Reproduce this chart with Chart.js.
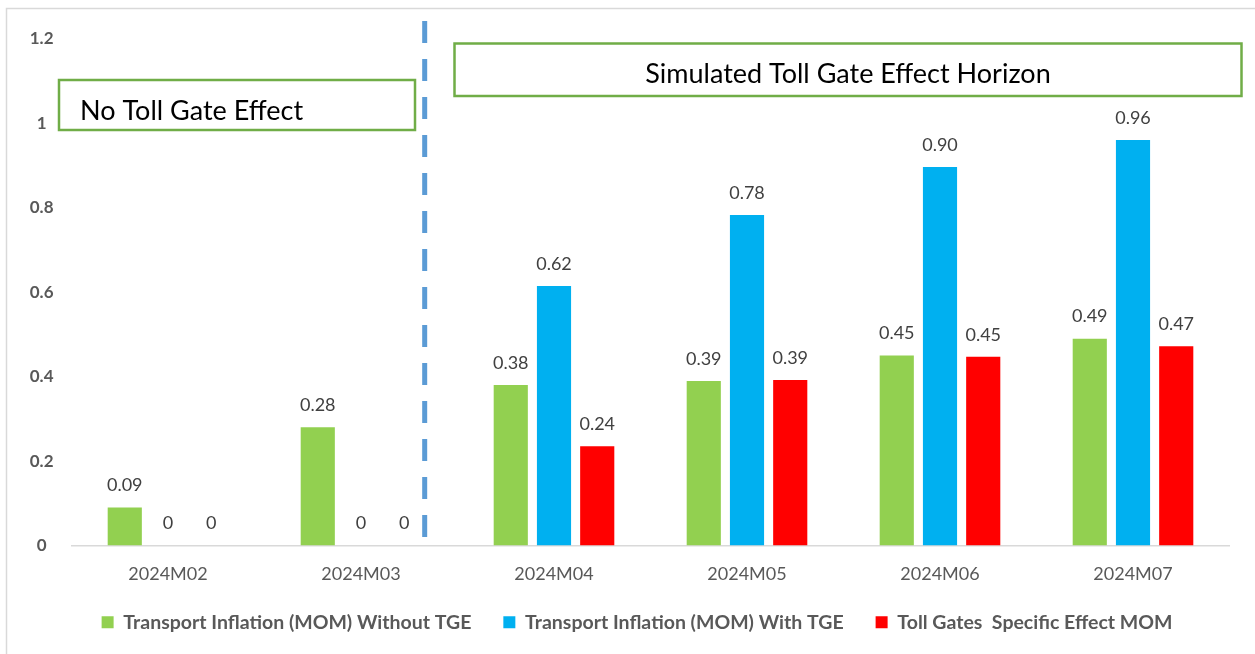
<!DOCTYPE html>
<html>
<head>
<meta charset="utf-8">
<script src="https://cdn.jsdelivr.net/npm/chart.js@4"></script>
<style>
  html, body { margin: 0; padding: 0; background: #ffffff; }
  #wrap { position: absolute; left: 0; top: 0; width: 1255px; height: 654px; }
</style>
</head>
<body>
<div id="wrap"><canvas id="c" width="1255" height="654"></canvas></div>
<script>
// ---- data ----
const categories = ['2024M02', '2024M03', '2024M04', '2024M05', '2024M06', '2024M07'];
const seriesNames = [
  'Transport Inflation (MOM) Without TGE',
  'Transport Inflation (MOM) With TGE',
  'Toll Gates  Specific Effect MOM'
];
const withoutTGE = [0.09, 0.28, 0.38, 0.39, 0.45, 0.49];
const withTGE = [0, 0, 0.615, 0.783, 0.897, 0.961];
const tollEffect = [0, 0, 0.235, 0.392, 0.447, 0.472];
const withoutTGELabels = ['0.09', '0.28', '0.38', '0.39', '0.45', '0.49'];
const withTGELabels = ['0', '0', '0.62', '0.78', '0.90', '0.96'];
const tollEffectLabels = ['0', '0', '0.24', '0.39', '0.45', '0.47'];
const yTicks = [0, 0.2, 0.4, 0.6, 0.8, 1, 1.2];
const leftNote = 'No Toll Gate Effect';
const rightNote = 'Simulated Toll Gate Effect Horizon';

const labelSets = [withoutTGELabels, withTGELabels, tollEffectLabels];
const FONT = 'Lato, "Open Sans", sans-serif';

const decorPlugin = {
  id: 'decor',
  beforeDraw(chart) {
    const ctx = chart.ctx;
    ctx.save();
    ctx.fillStyle = '#ffffff';
    ctx.fillRect(0, 0, chart.width, chart.height);
    ctx.strokeStyle = '#d9d9d9';
    ctx.lineWidth = 1.5;
    ctx.beginPath();
    ctx.moveTo(6.5, chart.height + 5);
    ctx.lineTo(6.5, 8.5);
    ctx.lineTo(chart.width + 5, 8.5);
    ctx.stroke();
    ctx.restore();
  },
  afterDatasetsDraw(chart) {
    const ctx = chart.ctx;
    ctx.save();
    ctx.font = '18px ' + FONT;
    ctx.fillStyle = '#404040';
    ctx.textAlign = 'center';
    ctx.textBaseline = 'middle';
    chart.data.datasets.forEach((ds, i) => {
      const meta = chart.getDatasetMeta(i);
      meta.data.forEach((bar, j) => {
        ctx.fillText(labelSets[i][j], bar.x, bar.y - 22);
      });
    });
    ctx.restore();
  },
  afterDraw(chart) {
    const ctx = chart.ctx;
    const x = chart.scales.x;
    const y = chart.scales.y;
    ctx.save();
    // dashed divider between 2024M03 and 2024M04
    const p1 = x.getPixelForValue(1), p2 = x.getPixelForValue(2);
    const lx = p1 + 0.33 * (p2 - p1);
    ctx.strokeStyle = '#5b9bd5';
    ctx.lineWidth = 5;
    ctx.setLineDash([22, 16]);
    ctx.beginPath();
    ctx.moveTo(lx, 21);
    ctx.lineTo(lx, y.getPixelForValue(0) + 6);
    ctx.stroke();
    ctx.setLineDash([]);
    // note boxes
    ctx.strokeStyle = '#70ad47';
    ctx.lineWidth = 2.5;
    ctx.strokeRect(59, 80, 356, 50);
    ctx.strokeRect(454.5, 43.5, 787, 52.5);
    ctx.fillStyle = '#000000';
    ctx.textBaseline = 'middle';
    ctx.font = '27px ' + FONT;
    ctx.textAlign = 'left';
    ctx.fillText(leftNote, 80, 111);
    ctx.textAlign = 'center';
    ctx.fillText(rightNote, 848, 74);
    ctx.restore();
  }
};

new Chart(document.getElementById('c'), {
  type: 'bar',
  data: {
    labels: categories,
    datasets: [
      { label: seriesNames[0], data: withoutTGE, backgroundColor: '#92d050' },
      { label: seriesNames[1], data: withTGE, backgroundColor: '#00b0f0' },
      { label: seriesNames[2], data: tollEffect, backgroundColor: '#ff0000' }
    ]
  },
  options: {
    responsive: false,
    animation: false,
    devicePixelRatio: 1,
    categoryPercentage: 0.672,
    barPercentage: 0.79,
    layout: { padding: { left: 19, top: 39, right: 0, bottom: 12 } },
    plugins: {
      tooltip: { enabled: false },
      legend: {
        position: 'bottom',
        labels: {
          boxWidth: 12,
          boxHeight: 12,
          padding: 32,
          color: '#595959',
          font: { family: FONT, size: 19.5, weight: 'bold' }
        }
      }
    },
    scales: {
      x: {
        grid: { display: false, drawTicks: false },
        border: { display: true, color: '#d9d9d9', width: 1.5 },
        ticks: { color: '#595959', padding: 18, font: { family: FONT, size: 18 } },
        afterFit(s) { s.height = 35; }
      },
      y: {
        min: 0,
        max: 1.2,
        grid: { display: false, drawTicks: false },
        border: { display: false },
        afterBuildTicks(s) { s.ticks = yTicks.map(v => ({ value: v })); },
        ticks: {
          color: '#595959',
          padding: 18,
          crossAlign: 'center',
          font: { family: FONT, size: 17, weight: 'bold' },
          callback: v => String(v)
        },
        afterFit(s) { s.width = 52.5; }
      },
      yRight: {
        position: 'right',
        min: 0,
        max: 1.2,
        grid: { display: false, drawTicks: false },
        border: { display: false },
        ticks: { display: false },
        afterFit(s) { s.width = 25.5; }
      }
    }
  },
  plugins: [decorPlugin]
});
</script>
</body>
</html>
